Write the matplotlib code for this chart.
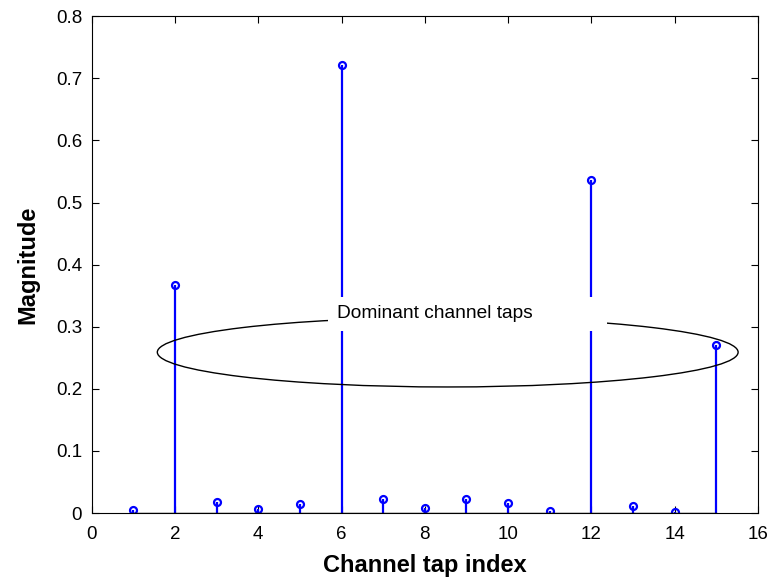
import matplotlib.pyplot as plt
from matplotlib.patches import Ellipse, Rectangle

plt.rcParams['font.family'] = ['Liberation Sans', 'DejaVu Sans']

# Channel tap magnitudes
tap_index = [1, 2, 3, 4, 5, 6, 7, 8, 9, 10, 11, 12, 13, 14, 15]
magnitude = [0.005, 0.367, 0.018, 0.006, 0.015, 0.721, 0.022, 0.008,
             0.022, 0.016, 0.004, 0.536, 0.011, 0.002, 0.270]

fig = plt.figure(figsize=(7.71, 5.81), dpi=100)
ax = fig.add_axes([0.119, 0.117, 0.864, 0.855])

markerline, stemlines, baseline = ax.stem(tap_index, magnitude, basefmt='k-')
plt.setp(stemlines, color='blue', linewidth=1.6)
plt.setp(markerline, color='blue', marker='o', markersize=5,
         markerfacecolor='none', markeredgewidth=1.6)
plt.setp(baseline, linewidth=1.0)

# Ellipse around the dominant taps
ax.add_patch(Ellipse((8.55, 0.259), 13.95, 0.112, fill=False,
                     edgecolor='black', linewidth=1.0, zorder=3))

# White label box over the ellipse and stems
ax.add_patch(Rectangle((5.67, 0.293), 6.71, 0.055, facecolor='white',
                       edgecolor='none', zorder=4))
ax.text(5.88, 0.3215, 'Dominant channel taps', fontsize=13.8,
        va='center', ha='left', zorder=5)

ax.set_xlim(0, 16)
ax.set_ylim(0, 0.8)
ax.set_xticks(range(0, 17, 2))
ax.set_yticks([i / 10 for i in range(9)])
ax.set_yticklabels(['0'] + [f'{i / 10:.1f}' for i in range(1, 9)])
ax.tick_params(direction='in', top=True, right=True, labelsize=13.5, length=5)
ax.tick_params(axis='x', pad=9)
ax.tick_params(axis='y', pad=7)
ax.set_xlabel('Channel tap index', fontsize=17, fontweight='bold', labelpad=8)
ax.set_ylabel('Magnitude', fontsize=17, fontweight='bold', labelpad=12)

fig.savefig('out.png', dpi=100)
